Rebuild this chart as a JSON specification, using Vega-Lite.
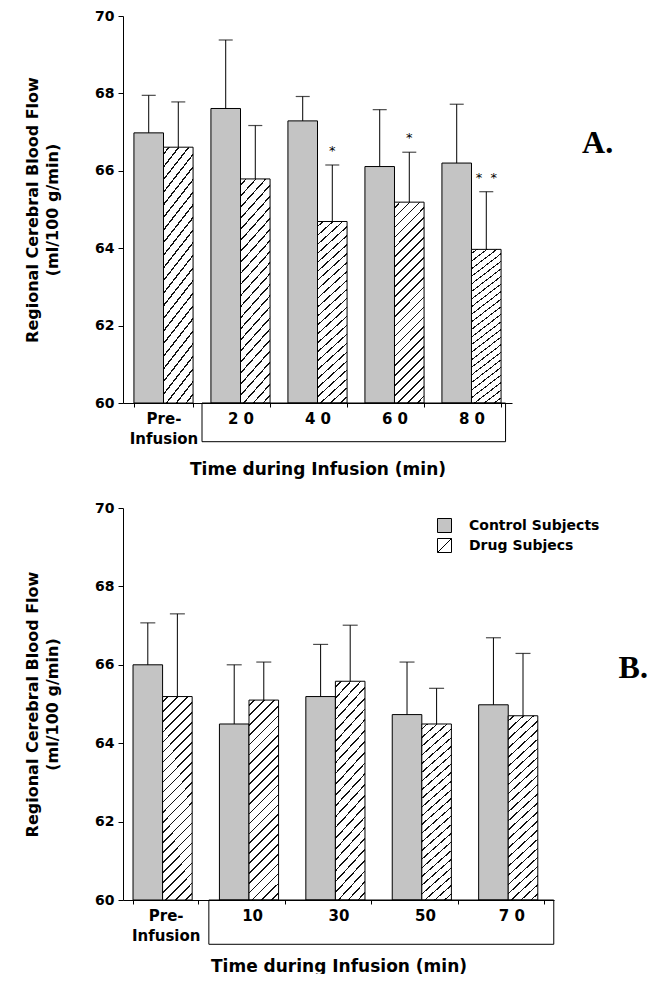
{
  "$schema": "https://vega.github.io/schema/vega-lite/v6.json",
  "background": "white",
  "padding": {"left": 24, "top": 9, "right": 0, "bottom": 0},
  "spacing": 24,
  "config": {
    "view": {"stroke": null},
    "font": "DejaVu Sans",
    "axis": {
      "grid": false,
      "domainColor": "black",
      "tickColor": "black",
      "labelColor": "black",
      "titleColor": "black",
      "labelFont": "DejaVu Sans",
      "labelFontWeight": "bold",
      "titleFont": "DejaVu Sans",
      "titleFontWeight": "bold"
    },
    "axisX": {
      "labelAngle": 0,
      "labelFontSize": 15,
      "labelLineHeight": 20,
      "labelPadding": 4,
      "tickSize": 4,
      "tickBand": "extent",
      "titleFontSize": 17,
      "titlePadding": 15
    },
    "axisY": {
      "labelFontSize": 14,
      "labelPadding": 4,
      "titleFontSize": 16,
      "titleLineHeight": 20,
      "titlePadding": 34
    }
  },
  "vconcat": [
    {
      "width": 389,
      "height": 387,
      "title": {"text": "A.", "orient": "right", "angle": 0, "anchor": "middle", "align": "left", "baseline": "middle", "frame": "group", "offset": 39, "dy": -67, "font": "Liberation Serif", "fontSize": 32, "fontWeight": "bold", "color": "black"},
      "data": {"values": [
        {"time": "Pre-Infusion", "subject": "Control Subjects", "value": 66.98, "upper": 67.95, "sig": ""},
        {"time": "Pre-Infusion", "subject": "Drug Subjecs", "value": 66.61, "upper": 67.78, "sig": ""},
        {"time": "20", "subject": "Control Subjects", "value": 67.61, "upper": 69.38, "sig": ""},
        {"time": "20", "subject": "Drug Subjecs", "value": 65.79, "upper": 67.17, "sig": ""},
        {"time": "40", "subject": "Control Subjects", "value": 67.29, "upper": 67.92, "sig": ""},
        {"time": "40", "subject": "Drug Subjecs", "value": 64.69, "upper": 66.15, "sig": "*"},
        {"time": "60", "subject": "Control Subjects", "value": 66.11, "upper": 67.58, "sig": ""},
        {"time": "60", "subject": "Drug Subjecs", "value": 65.19, "upper": 66.48, "sig": "*"},
        {"time": "80", "subject": "Control Subjects", "value": 66.2, "upper": 67.72, "sig": ""},
        {"time": "80", "subject": "Drug Subjecs", "value": 63.97, "upper": 65.46, "sig": "*\u00a0\u00a0*"}
      ]},
      "encoding": {
        "x": {"field": "time", "type": "nominal",
          "scale": {"domain": ["Pre-Infusion", "20", "40", "60", "80"], "paddingInner": 0.232, "paddingOuter": 0.142},
          "title": "Time during Infusion (min)",
          "axis": {"labelExpr": "datum.value === 'Pre-Infusion' ? ['Pre-', 'Infusion'] : datum.value === '20' ? '2 0' : datum.value === '40' ? '4 0' : datum.value === '60' ? '6 0' : datum.value === '80' ? '8 0' : ''"}
        }
      },
      "layer": [
        {
          "mark": {"type": "bar", "stroke": "black", "strokeWidth": 1},
          "encoding": {
            "xOffset": {"field": "subject", "type": "nominal", "scale": {"domain": ["Control Subjects", "Drug Subjecs"], "paddingInner": 0, "paddingOuter": 0}},
            "y": {"field": "value", "type": "quantitative",
              "scale": {"domain": [60, 70], "nice": false, "zero": false},
              "title": ["Regional Cerebral Blood Flow", "(ml/100 g/min)"],
              "axis": {"values": [60, 61, 62, 63, 64, 65, 66, 67, 68, 69, 70],
                "labelExpr": "datum.value % 2 === 0 ? datum.label : ''",
                "tickSize": {"condition": {"test": "datum.value % 2 === 1", "value": 2}, "value": 5}}
            },
            "y2": {"datum": 60},
            "fill": {"condition": {"test": "datum.subject === 'Drug Subjecs'", "value": {"gradient": "linear", "x1": 0, "y1": 0, "x2": 0.17, "y2": 1.15, "stops": [
                  {"offset": 0, "color": "white"},
                  {"offset": 0.02, "color": "white"}, {"offset": 0.02, "color": "#111"}, {"offset": 0.027, "color": "#111"}, {"offset": 0.027, "color": "white"},
                  {"offset": 0.062, "color": "white"}, {"offset": 0.062, "color": "#111"}, {"offset": 0.069, "color": "#111"}, {"offset": 0.069, "color": "white"},
                  {"offset": 0.104, "color": "white"}, {"offset": 0.104, "color": "#111"}, {"offset": 0.111, "color": "#111"}, {"offset": 0.111, "color": "white"},
                  {"offset": 0.146, "color": "white"}, {"offset": 0.146, "color": "#111"}, {"offset": 0.153, "color": "#111"}, {"offset": 0.153, "color": "white"},
                  {"offset": 0.188, "color": "white"}, {"offset": 0.188, "color": "#111"}, {"offset": 0.195, "color": "#111"}, {"offset": 0.195, "color": "white"},
                  {"offset": 0.23, "color": "white"}, {"offset": 0.23, "color": "#111"}, {"offset": 0.237, "color": "#111"}, {"offset": 0.237, "color": "white"},
                  {"offset": 0.272, "color": "white"}, {"offset": 0.272, "color": "#111"}, {"offset": 0.279, "color": "#111"}, {"offset": 0.279, "color": "white"},
                  {"offset": 0.314, "color": "white"}, {"offset": 0.314, "color": "#111"}, {"offset": 0.321, "color": "#111"}, {"offset": 0.321, "color": "white"},
                  {"offset": 0.356, "color": "white"}, {"offset": 0.356, "color": "#111"}, {"offset": 0.363, "color": "#111"}, {"offset": 0.363, "color": "white"},
                  {"offset": 0.398, "color": "white"}, {"offset": 0.398, "color": "#111"}, {"offset": 0.405, "color": "#111"}, {"offset": 0.405, "color": "white"},
                  {"offset": 0.44, "color": "white"}, {"offset": 0.44, "color": "#111"}, {"offset": 0.447, "color": "#111"}, {"offset": 0.447, "color": "white"},
                  {"offset": 0.482, "color": "white"}, {"offset": 0.482, "color": "#111"}, {"offset": 0.489, "color": "#111"}, {"offset": 0.489, "color": "white"},
                  {"offset": 0.524, "color": "white"}, {"offset": 0.524, "color": "#111"}, {"offset": 0.531, "color": "#111"}, {"offset": 0.531, "color": "white"},
                  {"offset": 0.566, "color": "white"}, {"offset": 0.566, "color": "#111"}, {"offset": 0.573, "color": "#111"}, {"offset": 0.573, "color": "white"},
                  {"offset": 0.608, "color": "white"}, {"offset": 0.608, "color": "#111"}, {"offset": 0.615, "color": "#111"}, {"offset": 0.615, "color": "white"},
                  {"offset": 0.65, "color": "white"}, {"offset": 0.65, "color": "#111"}, {"offset": 0.657, "color": "#111"}, {"offset": 0.657, "color": "white"},
                  {"offset": 0.692, "color": "white"}, {"offset": 0.692, "color": "#111"}, {"offset": 0.699, "color": "#111"}, {"offset": 0.699, "color": "white"},
                  {"offset": 0.734, "color": "white"}, {"offset": 0.734, "color": "#111"}, {"offset": 0.741, "color": "#111"}, {"offset": 0.741, "color": "white"},
                  {"offset": 0.776, "color": "white"}, {"offset": 0.776, "color": "#111"}, {"offset": 0.783, "color": "#111"}, {"offset": 0.783, "color": "white"},
                  {"offset": 0.818, "color": "white"}, {"offset": 0.818, "color": "#111"}, {"offset": 0.825, "color": "#111"}, {"offset": 0.825, "color": "white"},
                  {"offset": 0.86, "color": "white"}, {"offset": 0.86, "color": "#111"}, {"offset": 0.867, "color": "#111"}, {"offset": 0.867, "color": "white"},
                  {"offset": 0.902, "color": "white"}, {"offset": 0.902, "color": "#111"}, {"offset": 0.909, "color": "#111"}, {"offset": 0.909, "color": "white"},
                  {"offset": 0.944, "color": "white"}, {"offset": 0.944, "color": "#111"}, {"offset": 0.951, "color": "#111"}, {"offset": 0.951, "color": "white"},
                  {"offset": 0.986, "color": "white"}, {"offset": 0.986, "color": "#111"}, {"offset": 0.993, "color": "#111"}, {"offset": 0.993, "color": "white"},
                  {"offset": 1, "color": "white"}
                ]}}, "value": "#c4c4c4"}
          }
        },
        {
          "mark": {"type": "rule", "color": "black", "strokeWidth": 1},
          "encoding": {
            "xOffset": {"field": "subject", "type": "nominal"},
            "y": {"field": "value", "type": "quantitative"},
            "y2": {"field": "upper"}
          }
        },
        {
          "mark": {"type": "tick", "color": "black", "size": 14, "thickness": 1.2},
          "encoding": {
            "xOffset": {"field": "subject", "type": "nominal"},
            "y": {"field": "upper", "type": "quantitative"}
          }
        },
        {
          "mark": {"type": "text", "dy": -14, "fontSize": 13, "baseline": "middle", "fill": "black", "font": "DejaVu Sans"},
          "encoding": {
            "xOffset": {"field": "subject", "type": "nominal"},
            "y": {"field": "upper", "type": "quantitative"},
            "text": {"field": "sig"}
          }
        },
        {
          "data": {"values": [{"box": "20-80"}]},
          "mark": {"type": "rect", "fill": null, "stroke": "black", "strokeWidth": 1, "clip": false},
          "encoding": {
            "x": {"datum": "20", "bandPosition": -0.151},
            "x2": {"datum": "80", "bandPosition": 1.076},
            "y": {"datum": 60},
            "y2": {"datum": 59.0}
          }
        }
      ]
    },
    {
      "width": 431,
      "height": 392,
      "title": {"text": "B.", "orient": "right", "angle": 0, "anchor": "middle", "align": "left", "baseline": "middle", "frame": "group", "offset": 35, "dy": -36, "font": "Liberation Serif", "fontSize": 32, "fontWeight": "bold", "color": "black"},
      "data": {"values": [
        {"time": "Pre-Infusion", "subject": "Control Subjects", "value": 66.0, "upper": 67.07},
        {"time": "Pre-Infusion", "subject": "Drug Subjecs", "value": 65.19, "upper": 67.3},
        {"time": "10", "subject": "Control Subjects", "value": 64.49, "upper": 66.0},
        {"time": "10", "subject": "Drug Subjecs", "value": 65.1, "upper": 66.07},
        {"time": "30", "subject": "Control Subjects", "value": 65.19, "upper": 66.52},
        {"time": "30", "subject": "Drug Subjecs", "value": 65.58, "upper": 67.01},
        {"time": "50", "subject": "Control Subjects", "value": 64.73, "upper": 66.07},
        {"time": "50", "subject": "Drug Subjecs", "value": 64.49, "upper": 65.4},
        {"time": "70", "subject": "Control Subjects", "value": 64.98, "upper": 66.69},
        {"time": "70", "subject": "Drug Subjecs", "value": 64.7, "upper": 66.29}
      ]},
      "encoding": {
        "x": {"field": "time", "type": "nominal",
          "scale": {"domain": ["Pre-Infusion", "10", "30", "50", "70"], "paddingInner": 0.244, "paddingOuter": 0.116},
          "title": "Time during Infusion (min)",
          "axis": {"labelExpr": "datum.value === 'Pre-Infusion' ? ['Pre-', 'Infusion'] : datum.value === '70' ? '7 0' : datum.value === '10' || datum.value === '30' || datum.value === '50' ? datum.value : ''"}
        }
      },
      "layer": [
        {
          "mark": {"type": "bar", "stroke": "black", "strokeWidth": 1},
          "encoding": {
            "xOffset": {"field": "subject", "type": "nominal", "scale": {"domain": ["Control Subjects", "Drug Subjecs"], "paddingInner": 0, "paddingOuter": 0}},
            "y": {"field": "value", "type": "quantitative",
              "scale": {"domain": [60, 70], "nice": false, "zero": false},
              "title": ["Regional Cerebral Blood Flow", "(ml/100 g/min)"],
              "axis": {"values": [60, 61, 62, 63, 64, 65, 66, 67, 68, 69, 70],
                "labelExpr": "datum.value % 2 === 0 ? datum.label : ''",
                "tickSize": {"condition": {"test": "datum.value % 2 === 1", "value": 2}, "value": 5}}
            },
            "y2": {"datum": 60},
            "fill": {"condition": {"test": "datum.subject === 'Drug Subjecs'", "value": {"gradient": "linear", "x1": 0, "y1": 0, "x2": 0.17, "y2": 1.15, "stops": [
                  {"offset": 0, "color": "white"},
                  {"offset": 0.02, "color": "white"}, {"offset": 0.02, "color": "#111"}, {"offset": 0.027, "color": "#111"}, {"offset": 0.027, "color": "white"},
                  {"offset": 0.062, "color": "white"}, {"offset": 0.062, "color": "#111"}, {"offset": 0.069, "color": "#111"}, {"offset": 0.069, "color": "white"},
                  {"offset": 0.104, "color": "white"}, {"offset": 0.104, "color": "#111"}, {"offset": 0.111, "color": "#111"}, {"offset": 0.111, "color": "white"},
                  {"offset": 0.146, "color": "white"}, {"offset": 0.146, "color": "#111"}, {"offset": 0.153, "color": "#111"}, {"offset": 0.153, "color": "white"},
                  {"offset": 0.188, "color": "white"}, {"offset": 0.188, "color": "#111"}, {"offset": 0.195, "color": "#111"}, {"offset": 0.195, "color": "white"},
                  {"offset": 0.23, "color": "white"}, {"offset": 0.23, "color": "#111"}, {"offset": 0.237, "color": "#111"}, {"offset": 0.237, "color": "white"},
                  {"offset": 0.272, "color": "white"}, {"offset": 0.272, "color": "#111"}, {"offset": 0.279, "color": "#111"}, {"offset": 0.279, "color": "white"},
                  {"offset": 0.314, "color": "white"}, {"offset": 0.314, "color": "#111"}, {"offset": 0.321, "color": "#111"}, {"offset": 0.321, "color": "white"},
                  {"offset": 0.356, "color": "white"}, {"offset": 0.356, "color": "#111"}, {"offset": 0.363, "color": "#111"}, {"offset": 0.363, "color": "white"},
                  {"offset": 0.398, "color": "white"}, {"offset": 0.398, "color": "#111"}, {"offset": 0.405, "color": "#111"}, {"offset": 0.405, "color": "white"},
                  {"offset": 0.44, "color": "white"}, {"offset": 0.44, "color": "#111"}, {"offset": 0.447, "color": "#111"}, {"offset": 0.447, "color": "white"},
                  {"offset": 0.482, "color": "white"}, {"offset": 0.482, "color": "#111"}, {"offset": 0.489, "color": "#111"}, {"offset": 0.489, "color": "white"},
                  {"offset": 0.524, "color": "white"}, {"offset": 0.524, "color": "#111"}, {"offset": 0.531, "color": "#111"}, {"offset": 0.531, "color": "white"},
                  {"offset": 0.566, "color": "white"}, {"offset": 0.566, "color": "#111"}, {"offset": 0.573, "color": "#111"}, {"offset": 0.573, "color": "white"},
                  {"offset": 0.608, "color": "white"}, {"offset": 0.608, "color": "#111"}, {"offset": 0.615, "color": "#111"}, {"offset": 0.615, "color": "white"},
                  {"offset": 0.65, "color": "white"}, {"offset": 0.65, "color": "#111"}, {"offset": 0.657, "color": "#111"}, {"offset": 0.657, "color": "white"},
                  {"offset": 0.692, "color": "white"}, {"offset": 0.692, "color": "#111"}, {"offset": 0.699, "color": "#111"}, {"offset": 0.699, "color": "white"},
                  {"offset": 0.734, "color": "white"}, {"offset": 0.734, "color": "#111"}, {"offset": 0.741, "color": "#111"}, {"offset": 0.741, "color": "white"},
                  {"offset": 0.776, "color": "white"}, {"offset": 0.776, "color": "#111"}, {"offset": 0.783, "color": "#111"}, {"offset": 0.783, "color": "white"},
                  {"offset": 0.818, "color": "white"}, {"offset": 0.818, "color": "#111"}, {"offset": 0.825, "color": "#111"}, {"offset": 0.825, "color": "white"},
                  {"offset": 0.86, "color": "white"}, {"offset": 0.86, "color": "#111"}, {"offset": 0.867, "color": "#111"}, {"offset": 0.867, "color": "white"},
                  {"offset": 0.902, "color": "white"}, {"offset": 0.902, "color": "#111"}, {"offset": 0.909, "color": "#111"}, {"offset": 0.909, "color": "white"},
                  {"offset": 0.944, "color": "white"}, {"offset": 0.944, "color": "#111"}, {"offset": 0.951, "color": "#111"}, {"offset": 0.951, "color": "white"},
                  {"offset": 0.986, "color": "white"}, {"offset": 0.986, "color": "#111"}, {"offset": 0.993, "color": "#111"}, {"offset": 0.993, "color": "white"},
                  {"offset": 1, "color": "white"}
                ]}}, "value": "#c4c4c4"}
          }
        },
        {
          "mark": {"type": "rule", "color": "black", "strokeWidth": 1},
          "encoding": {
            "xOffset": {"field": "subject", "type": "nominal"},
            "y": {"field": "value", "type": "quantitative"},
            "y2": {"field": "upper"}
          }
        },
        {
          "mark": {"type": "tick", "color": "black", "size": 15, "thickness": 1.2},
          "encoding": {
            "xOffset": {"field": "subject", "type": "nominal"},
            "y": {"field": "upper", "type": "quantitative"}
          }
        },
        {
          "data": {"values": [{"box": "10-70"}]},
          "mark": {"type": "rect", "fill": null, "stroke": "black", "strokeWidth": 1, "clip": false},
          "encoding": {
            "x": {"datum": "10", "bandPosition": -0.162},
            "x2": {"datum": "70", "bandPosition": 1.15},
            "y": {"datum": 60},
            "y2": {"datum": 58.87}
          }
        },
        {
          "transform": [{"filter": "false"}],
          "mark": {"type": "point", "filled": true, "strokeWidth": 1, "opacity": 1},
          "encoding": {
            "xOffset": {"field": "subject", "type": "nominal"},
            "y": {"field": "value", "type": "quantitative"},
            "fill": {"field": "subject", "type": "nominal",
              "scale": {"domain": ["Control Subjects", "Drug Subjecs"], "range": ["#c4c4c4", "white"]},
              "legend": {
                "orient": "none", "legendX": 314, "legendY": 502, "title": null,
                "symbolSize": 196, "symbolStrokeWidth": 1,
                "labelFont": "DejaVu Sans", "labelFontWeight": "bold", "labelFontSize": 14, "labelColor": "black",
                "labelOffset": 17, "rowPadding": 1, "padding": 0
              }
            },
            "stroke": {"field": "subject", "type": "nominal",
              "scale": {"domain": ["Control Subjects", "Drug Subjecs"], "range": ["black", "black"]},
              "legend": {
                "orient": "none", "legendX": 314, "legendY": 502, "title": null,
                "symbolSize": 196, "symbolStrokeWidth": 1,
                "labelFont": "DejaVu Sans", "labelFontWeight": "bold", "labelFontSize": 14, "labelColor": "black",
                "labelOffset": 17, "rowPadding": 1, "padding": 0
              }
            },
            "shape": {"field": "subject", "type": "nominal",
              "scale": {"domain": ["Control Subjects", "Drug Subjecs"], "range": ["square", "M-1,-1H1V1H-1Z M-1,1L1,-1"]},
              "legend": {
                "orient": "none", "legendX": 314, "legendY": 502, "title": null,
                "symbolSize": 196, "symbolStrokeWidth": 1,
                "labelFont": "DejaVu Sans", "labelFontWeight": "bold", "labelFontSize": 14, "labelColor": "black",
                "labelOffset": 17, "rowPadding": 1, "padding": 0
              }
            }
          }
        }
      ]
    }
  ]
}
